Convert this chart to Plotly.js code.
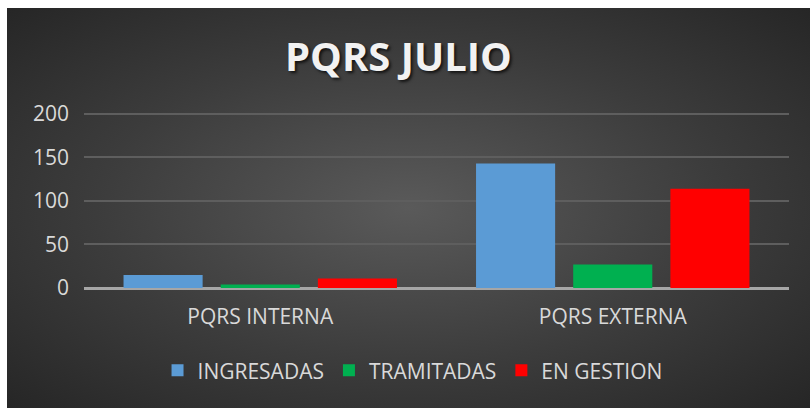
<!DOCTYPE html>
<html>
<head>
<meta charset="utf-8">
<script src="https://cdn.plot.ly/plotly-3.0.1.min.js"></script>
<style>
  html, body { margin: 0; padding: 0; background: #ffffff; width: 810px; height: 408px; overflow: hidden; }
  #panel {
    position: absolute; left: 7px; top: 8px; width: 803px; height: 400px;
    background: radial-gradient(ellipse farthest-corner at 50% 50%, #5a5a5a 0%, #3c3c3c 55%, #262626 100%);
  }
  #chart { position: absolute; left: 0; top: 0; width: 803px; height: 400px; }
</style>
</head>
<body>
<div id="panel"><div id="chart"></div></div>
<script>
const categories = ["PQRS INTERNA", "PQRS EXTERNA"];
const ingresadas = [15, 143];
const tramitadas = [4, 27];
const enGestion = [11, 114];
const seriesNames = ["INGRESADAS", "TRAMITADAS", "EN GESTION"];
const yTicks = [0, 50, 100, 150, 200];
const titleText = "PQRS JULIO";

const font = "'Open Sans', 'Noto Sans', sans-serif";
const colors = ["#5b9bd5", "#00b050", "#ff0000"];
const values = [ingresadas, tramitadas, enGestion];

const traces = values.map((v, i) => ({
  type: "bar",
  name: seriesNames[i],
  x: categories,
  y: v,
  marker: { color: colors[i], line: { width: 0 } },
  hoverinfo: "skip"
}));

const layout = {
  width: 803, height: 400,
  paper_bgcolor: "rgba(0,0,0,0)",
  plot_bgcolor: "rgba(0,0,0,0)",
  margin: { l: 77, r: 21, t: 104, b: 120, autoexpand: false },
  barmode: "group",
  bargap: 0.173,
  bargroupgap: 0.186,
  title: {
    text: "<b>" + titleText + "</b>",
    x: 0.4875, xanchor: "center",
    y: 1 - 49 / 400, yanchor: "middle",
    font: { family: font, size: 40, color: "#f2f2f2", shadow: "2px 2px 3px rgba(0,0,0,0.7)" }
  },
  xaxis: {
    type: "category",
    showgrid: false,
    showline: false,
    zeroline: false,
    ticks: "",
    tickfont: { family: font, size: 21, color: "#d9d9d9" },
    ticklabelstandoff: 14
  },
  yaxis: {
    range: [0, 202],
    tickvals: yTicks,
    ticktext: yTicks.map(String),
    showgrid: true,
    gridcolor: "#5e5e5e",
    gridwidth: 2,
    zeroline: true,
    zerolinecolor: "#a6a6a6",
    zerolinewidth: 3,
    showline: false,
    ticks: "",
    tickfont: { family: font, size: 21, color: "#d9d9d9" },
    ticklabelstandoff: 14
  },
  showlegend: true,
  legend: {
    orientation: "h",
    x: 0.466, xanchor: "center",
    y: -0.47, yanchor: "middle",
    font: { family: font, size: 21, color: "#d9d9d9" },
    bgcolor: "rgba(0,0,0,0)",
    itemwidth: 30,
    traceorder: "normal"
  }
};

Plotly.newPlot("chart", traces, layout, { displayModeBar: false, staticPlot: true });
</script>
</body>
</html>
